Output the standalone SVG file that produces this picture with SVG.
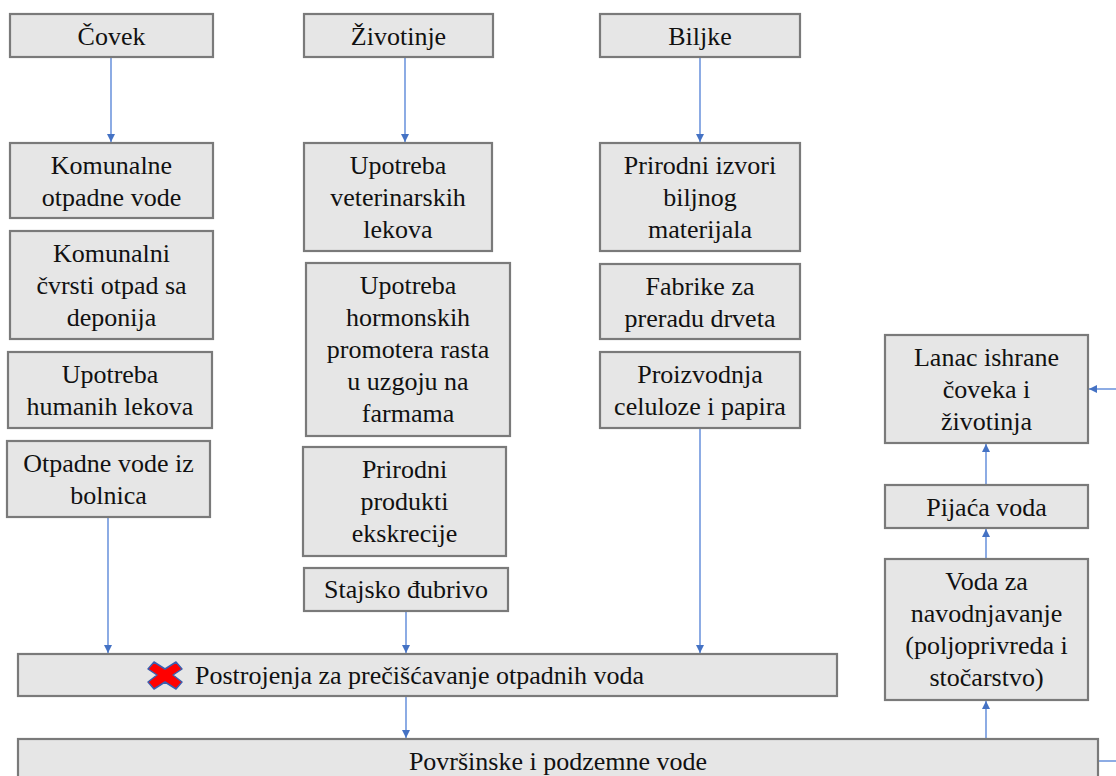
<svg xmlns="http://www.w3.org/2000/svg" width="1116" height="776" viewBox="0 0 1116 776">
<style>
.box{fill:#e6e6e6;stroke:#7a7a7a;stroke-width:2.2}
.inner{fill:none;stroke:#f4f4f4;stroke-width:1}
.t{font-family:"Liberation Serif","Times New Roman",serif;font-size:26px;fill:#111;text-anchor:middle}
.c{fill:none;stroke:#4f7fd6;stroke-width:1.3}
</style>
<defs>
<marker id="ah" markerWidth="10" markerHeight="10" refX="9" refY="5" orient="auto" markerUnits="userSpaceOnUse">
<path d="M1,1 L9,5 L1,9 Z" fill="#4472c4"/>
</marker>
</defs>
<rect width="1116" height="776" fill="#ffffff"/>

<g id="connectors">
<line class="c" x1="111" y1="57" x2="111" y2="142" marker-end="url(#ah)"/>
<line class="c" x1="405" y1="57" x2="405" y2="142" marker-end="url(#ah)"/>
<line class="c" x1="700" y1="57" x2="700" y2="142" marker-end="url(#ah)"/>
<line class="c" x1="108" y1="517" x2="108" y2="653" marker-end="url(#ah)"/>
<line class="c" x1="406" y1="611" x2="406" y2="653" marker-end="url(#ah)"/>
<line class="c" x1="700" y1="428" x2="700" y2="653" marker-end="url(#ah)"/>
<line class="c" x1="406" y1="696" x2="406" y2="738" marker-end="url(#ah)"/>
<line class="c" x1="986" y1="739" x2="986" y2="701" marker-end="url(#ah)"/>
<line class="c" x1="986" y1="559" x2="986" y2="529" marker-end="url(#ah)"/>
<line class="c" x1="986" y1="485" x2="986" y2="444" marker-end="url(#ah)"/>
<line class="c" x1="1116" y1="389" x2="1089" y2="389" marker-end="url(#ah)"/>
<line class="c" x1="1098" y1="761" x2="1116" y2="761"/>
</g>

<g id="covek">
<rect class="box" x="10" y="14" width="203" height="43"/>
<text class="t" x="111.5" y="45">Čovek</text>
</g>
<g id="zivotinje">
<rect class="box" x="304" y="14" width="189" height="43"/>
<text class="t" x="398.5" y="45">Životinje</text>
</g>
<g id="biljke">
<rect class="box" x="600" y="14" width="200" height="43"/>
<text class="t" x="700" y="45">Biljke</text>
</g>

<g id="komunalne-vode">
<rect class="box" x="10" y="143" width="203" height="75"/>
<text class="t" x="111.5" y="174">Komunalne</text>
<text class="t" x="111.5" y="206">otpadne vode</text>
</g>
<g id="komunalni-otpad">
<rect class="box" x="10" y="231" width="203" height="108"/>
<text class="t" x="111.5" y="262">Komunalni</text>
<text class="t" x="111.5" y="294">čvrsti otpad sa</text>
<text class="t" x="111.5" y="326">deponija</text>
</g>
<g id="humani-lekovi">
<rect class="box" x="8" y="352" width="204" height="76"/>
<text class="t" x="110" y="383">Upotreba</text>
<text class="t" x="110" y="415">humanih lekova</text>
</g>
<g id="bolnice">
<rect class="box" x="7" y="441" width="203" height="76"/>
<text class="t" x="108.5" y="472">Otpadne vode iz</text>
<text class="t" x="108.5" y="504">bolnica</text>
</g>

<g id="veterinarski">
<rect class="box" x="304" y="143" width="188" height="108"/>
<text class="t" x="398" y="174">Upotreba</text>
<text class="t" x="398" y="206">veterinarskih</text>
<text class="t" x="398" y="238">lekova</text>
</g>
<g id="hormonski">
<rect class="box" x="306" y="263" width="204" height="173"/>
<text class="t" x="408" y="294">Upotreba</text>
<text class="t" x="408" y="326">hormonskih</text>
<text class="t" x="408" y="358">promotera rasta</text>
<text class="t" x="408" y="390">u uzgoju na</text>
<text class="t" x="408" y="422">farmama</text>
</g>
<g id="prirodni-produkti">
<rect class="box" x="303" y="447" width="203" height="109"/>
<text class="t" x="404.5" y="478">Prirodni</text>
<text class="t" x="404.5" y="510">produkti</text>
<text class="t" x="404.5" y="542">ekskrecije</text>
</g>
<g id="stajsko">
<rect class="box" x="304" y="568" width="204" height="43"/>
<text class="t" x="406" y="598">Stajsko đubrivo</text>
</g>

<g id="prirodni-izvori">
<rect class="box" x="600" y="143" width="200" height="108"/>
<text class="t" x="700" y="174">Prirodni izvori</text>
<text class="t" x="700" y="206">biljnog</text>
<text class="t" x="700" y="238">materijala</text>
</g>
<g id="fabrike">
<rect class="box" x="600" y="264" width="200" height="75"/>
<text class="t" x="700" y="295">Fabrike za</text>
<text class="t" x="700" y="327">preradu drveta</text>
</g>
<g id="celuloza">
<rect class="box" x="600" y="352" width="200" height="76"/>
<text class="t" x="700" y="383">Proizvodnja</text>
<text class="t" x="700" y="415">celuloze i papira</text>
</g>

<g id="postrojenja">
<rect class="box" x="18" y="654" width="819" height="42"/>
<path d="M154,662 L165,669 L176,662 L182,669 L173,675 L182,682 L176,689 L165,682 L154,689 L148,682 L157,675 L148,669 Z" fill="#ff0000" stroke="#3a5fb0" stroke-width="1.5" stroke-linejoin="round"/>
<text class="t" x="195" y="684" style="text-anchor:start">Postrojenja za prečišćavanje otpadnih voda</text>
</g>

<g id="povrsinske">
<rect class="box" x="18" y="739" width="1080" height="50"/>
<text class="t" x="558" y="770">Površinske i podzemne vode</text>
</g>

<g id="lanac">
<rect class="box" x="885" y="335" width="203" height="108"/>
<text class="t" x="986.5" y="366">Lanac ishrane</text>
<text class="t" x="986.5" y="398">čoveka i</text>
<text class="t" x="986.5" y="430">životinja</text>
</g>
<g id="pijaca">
<rect class="box" x="885" y="485" width="203" height="43"/>
<text class="t" x="986.5" y="516">Pijaća voda</text>
</g>
<g id="navodnjavanje">
<rect class="box" x="885" y="559" width="203" height="141"/>
<text class="t" x="986.5" y="590">Voda za</text>
<text class="t" x="986.5" y="622">navodnjavanje</text>
<text class="t" x="986.5" y="654">(poljoprivreda i</text>
<text class="t" x="986.5" y="686">stočarstvo)</text>
</g>
</svg>
